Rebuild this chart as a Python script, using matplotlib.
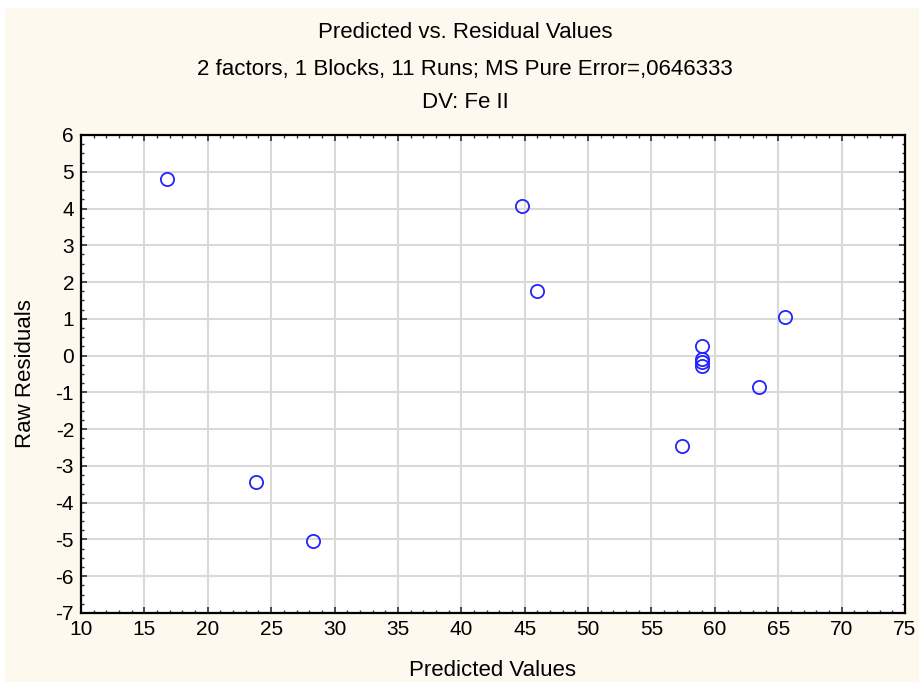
import matplotlib
matplotlib.use("Agg")
from matplotlib import pyplot as plt
from matplotlib.ticker import MultipleLocator
from matplotlib.patches import Rectangle

predicted = [16.8, 23.8, 28.3, 44.8, 46.0, 57.4, 58.95, 58.95, 58.95, 58.95, 63.5, 65.5]
residuals = [4.8, -3.45, -5.05, 4.07, 1.76, -2.45, 0.27, -0.08, -0.18, -0.28, -0.85, 1.05]

title_lines = ["Predicted vs. Residual Values",
               "2 factors, 1 Blocks, 11 Runs; MS Pure Error=,0646333",
               "DV: Fe II"]

plt.rcParams["font.family"] = ["Liberation Sans", "DejaVu Sans"]
plt.rcParams["axes.unicode_minus"] = False

fig = plt.figure(figsize=(9.19, 6.82), dpi=100, facecolor="white")
fig.patches.append(Rectangle((5 / 919, 0), 1, 1 - 8 / 682, transform=fig.transFigure,
                             facecolor="#fef9ee", edgecolor="none", zorder=-10))

ax = fig.add_axes([81 / 919, 1 - 613 / 682, (905 - 81) / 919, (613 - 135) / 682])
ax.set_facecolor("white")

ax.plot(predicted, residuals, linestyle="none", marker="o", markersize=9.5,
        markerfacecolor="none", markeredgecolor="#2323ff", markeredgewidth=1.3,
        clip_on=False, zorder=3)

ax.set_xlim(10, 75)
ax.set_ylim(-7, 6)
ax.xaxis.set_major_locator(MultipleLocator(5))
ax.xaxis.set_minor_locator(MultipleLocator(1))
ax.yaxis.set_major_locator(MultipleLocator(1))
ax.yaxis.set_minor_locator(MultipleLocator(0.25))

ax.grid(True, which="major", color="#d9d9d9", linewidth=1.5)
ax.set_axisbelow(True)
ax.tick_params(which="both", direction="in", top=True, right=True, color="#303030")
ax.tick_params(which="major", length=4, width=1.2, labelsize=15, pad=5)
ax.tick_params(which="minor", length=2.5, width=1)
for s in ax.spines.values():
    s.set_linewidth(1.6)
    s.set_color("black")

ax.set_xlabel("Predicted Values", fontsize=16, labelpad=15)
ax.set_ylabel("Raw Residuals", fontsize=16, labelpad=14)

for txt, yy in zip(title_lines, [33, 69, 102]):
    fig.text(465 / 919, 1 - yy / 682, txt, ha="center", va="center", fontsize=16)

fig.savefig("out.png", dpi=100, facecolor=fig.get_facecolor())
